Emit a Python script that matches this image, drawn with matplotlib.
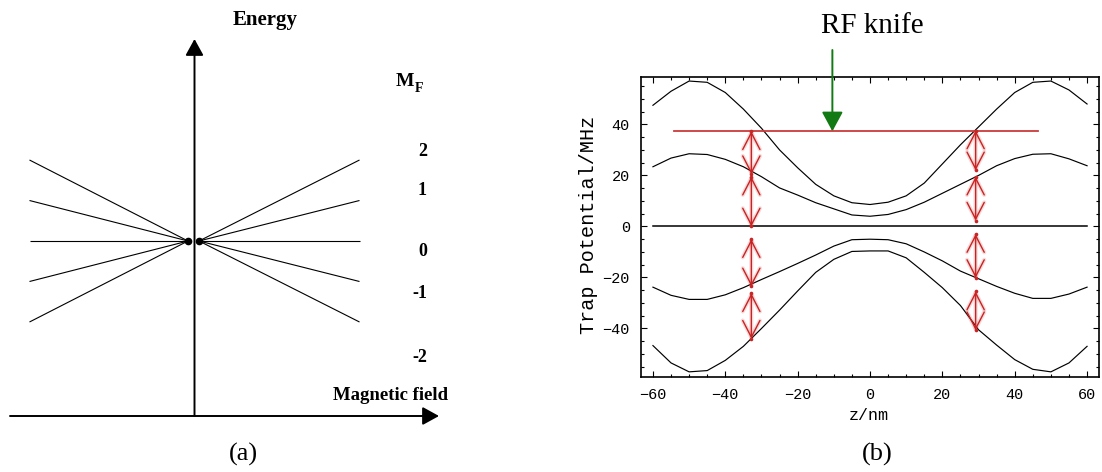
import numpy as np
import matplotlib
matplotlib.use('Agg')
import matplotlib.pyplot as plt
import matplotlib.patheffects as pe
from matplotlib.ticker import MultipleLocator, FixedLocator

# ------------------------------------------------------------------ data
# panel (a): Zeeman sub-levels
mf_levels = [2, 1, 0, -1, -2]
mf_labels = ['2', '1', '0', '-1', '-2']

# panel (b): trap potential (MHz) versus z (nm)
z_nm = [-60, -55, -50, -45, -40, -35, -30, -25, -20, -15, -10, -5, 0,
        5, 10, 15, 20, 25, 30, 35, 40, 45, 50, 55, 60]
trap_upper_outer = [47.5, 53.0, 57.0, 56.5, 52.5, 46.0, 38.5, 30.0, 23.0, 16.5,
                    12.0, 9.3, 8.6, 9.5, 12.0, 17.0, 24.5, 32.0, 39.0, 46.0,
                    52.5, 56.5, 57.0, 53.5, 48.0]
trap_upper_inner = [23.4, 26.8, 28.5, 28.2, 26.3, 23.4, 19.5, 15.1, 12.3, 9.3,
                    6.9, 4.5, 4.0, 4.7, 6.6, 9.5, 13.0, 16.5, 20.0, 23.8,
                    26.6, 28.3, 28.5, 26.5, 23.8]
trap_lower_inner = [-23.8, -27.0, -28.6, -28.6, -26.8, -24.0, -20.8, -17.7, -14.5,
                    -11.2, -7.7, -5.2, -5.0, -5.2, -6.8, -10.0, -13.5, -17.5,
                    -20.5, -23.5, -26.2, -28.2, -28.2, -26.5, -23.8]
trap_lower_outer = [-46.7, -53.5, -57.0, -56.5, -52.5, -47.0, -40.0, -32.8, -25.3,
                    -18.0, -12.9, -9.8, -9.6, -9.6, -12.3, -18.0, -24.0, -31.0,
                    -40.5, -46.5, -52.2, -56.0, -57.0, -53.5, -47.0]
zero_level_span = [-60, 60]

knife_level = 37.3
knife_span = [-54.3, 46.5]
knife_pointer_z = -10.4

rf_arrow_z = [-32.8, -32.8, -32.8, -32.8, 29.2, 29.2, 29.2, 29.2]
rf_arrow_from = [37.3, 19.5, -5.0, -26.2, 37.6, 19.5, -3.0, -25.5]
rf_arrow_to = [20.5, 0.0, -23.5, -44.0, 22.0, 2.3, -20.2, -40.7]

x_ticks = [-60, -40, -20, 0, 20, 40, 60]
y_ticks = [-40, -20, 0, 20, 40]

# ------------------------------------------------------------------ figure
W, H = 1102, 472
fig = plt.figure(figsize=(W / 100, H / 100), dpi=100)
fig.patch.set_facecolor('white')


def fx(px):
    return px / W


def fy(py):
    return 1 - py / H


SERIF = ['Liberation Serif', 'DejaVu Serif']
MONO = ['Liberation Mono', 'DejaVu Sans Mono']

# ------------------------------------------------------------------ panel (a)
axa = fig.add_axes([0, 0, 551 / W, 1])
axa.set_axis_off()
x0, y0, sx, sy = 194.5, 241.0, 165.0, 40.5
axa.set_xlim(-x0 / sx, (551 - x0) / sx)
axa.set_ylim((y0 - H) / sy, y0 / sy)

gap_l, gap_r = 6.5 / sx, 4.5 / sx
for mf in mf_levels:
    axa.plot([-1, -gap_l], [mf, 0], color='black', lw=0.8, solid_capstyle='butt')
    axa.plot([gap_r, 1], [0, mf], color='black', lw=0.8, solid_capstyle='butt')
axa.plot([-gap_l, gap_r], [0, 0], 'o', ms=4.5, color='black')

arrow_kw = dict(arrowstyle='-|>,head_length=1.0,head_width=0.55', lw=1.4,
                color='black', shrinkA=0, shrinkB=0, mutation_scale=10)
# energy axis
axa.annotate('', xy=(0, (y0 - 39) / sy), xytext=(0, (y0 - 416) / sy),
             arrowprops=arrow_kw)
# magnetic-field axis
axa.annotate('', xy=((439 - x0) / sx, (y0 - 416) / sy),
             xytext=((10 - x0) / sx, (y0 - 416) / sy), arrowprops=arrow_kw)

fig.text(fx(265), fy(20), 'Energy', family=SERIF, weight='bold', fontsize=15,
         ha='center', va='center')
fig.text(fx(333), fy(396), 'Magnetic field', family=SERIF, weight='bold',
         fontsize=13.5, ha='left', va='center')
fig.text(fx(404.5), fy(81), 'M', family=SERIF, weight='bold', fontsize=14,
         ha='center', va='center')
fig.text(fx(419.5), fy(89), 'F', family=SERIF, weight='bold', fontsize=10,
         ha='center', va='center')
label_py = [152, 191, 251, 294, 357]
for lab, py in zip(mf_labels, label_py):
    fig.text(fx(427), fy(py), lab, family=SERIF, weight='bold', fontsize=13,
             ha='right', va='center')
fig.text(fx(243), fy(454), '(a)', family=SERIF, fontsize=19,
         ha='center', va='center')

# ------------------------------------------------------------------ panel (b)
axb = fig.add_axes([fx(641), fy(376.7), (1099 - 641) / W, (376.7 - 76.7) / H])
axb.set_xlim(-63.3, 63.3)
axb.set_ylim(-58.9, 58.7)

for series in (trap_upper_outer, trap_upper_inner, trap_lower_inner, trap_lower_outer):
    axb.plot(z_nm, series, color='black', lw=0.85)
axb.plot(zero_level_span, [0, 0], color='black', lw=1.1)

red = '#c82323'
axb.plot(knife_span, [knife_level, knife_level], color='#cc3a3a', lw=1.3)

glow = [pe.withStroke(linewidth=3.0, foreground=(0.85, 0.2, 0.2, 0.18))]
for z, a, b in zip(rf_arrow_z, rf_arrow_from, rf_arrow_to):
    ann = axb.annotate('', xy=(z, b), xytext=(z, a),
                       arrowprops=dict(arrowstyle='<->,head_length=1.2,head_width=0.62',
                                       color=red, lw=1.0, shrinkA=0, shrinkB=0,
                                       mutation_scale=10))
    ann.arrow_patch.set_path_effects(glow)
    axb.plot([z, z], [a, b], 'o', ms=2.6, color=red, mec='none')

axb.annotate('', xy=(knife_pointer_z, knife_level), xycoords='data',
             xytext=(knife_pointer_z, H - 50), textcoords=('data', 'figure pixels'),
             arrowprops=dict(arrowstyle='-|>,head_length=1.2,head_width=0.65',
                             color='#127a12', lw=1.4, shrinkA=0, shrinkB=0,
                             mutation_scale=10),
             annotation_clip=False)

axb.xaxis.set_major_locator(FixedLocator(x_ticks))
axb.yaxis.set_major_locator(FixedLocator(y_ticks))
axb.xaxis.set_minor_locator(MultipleLocator(5))
axb.yaxis.set_minor_locator(MultipleLocator(5))
axb.tick_params(which='both', direction='in', top=True, right=True,
                colors='black', width=0.8)
axb.tick_params(which='major', length=4, pad=8, labelsize=11)
axb.tick_params(which='minor', length=2.2)
for lab in axb.get_xticklabels() + axb.get_yticklabels():
    lab.set_family(MONO)
for sp in axb.spines.values():
    sp.set_linewidth(1.2)

fig.text(fx(589), fy(225), 'Trap Potential/MHz', family=MONO, fontsize=14.5,
         rotation=90, ha='center', va='center')
fig.text(fx(869), fy(415), 'z/nm', family=MONO, fontsize=12,
         ha='center', va='center')
fig.text(fx(872), fy(26), 'RF knife', family=SERIF, fontsize=21,
         ha='center', va='center')
fig.text(fx(877), fy(454), '(b)', family=SERIF, fontsize=19,
         ha='center', va='center')

fig.savefig('out.png', dpi=100, facecolor='white')
